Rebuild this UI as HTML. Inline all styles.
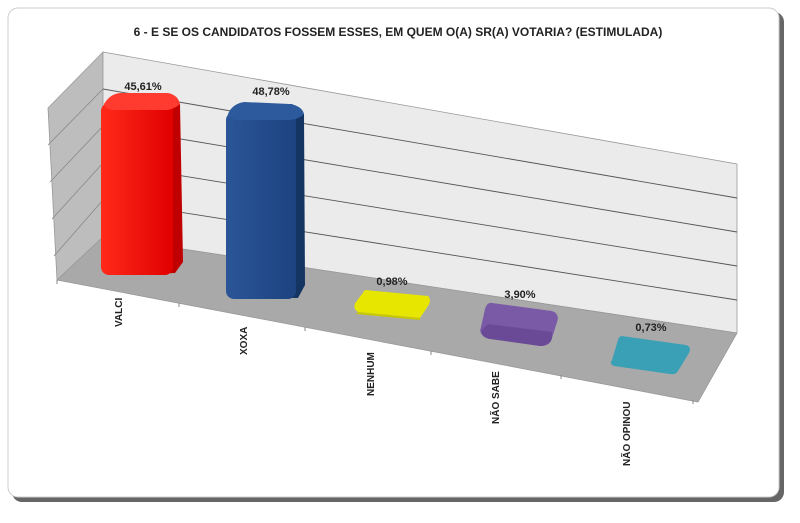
<!DOCTYPE html>
<html><head><meta charset="utf-8"><style>
html,body{margin:0;padding:0;background:#fff;}
svg{display:block;}
text{font-family:"Liberation Sans",sans-serif;font-weight:bold;fill:#222;}
</style></head><body>
<svg width="800" height="523" viewBox="0 0 800 523" xmlns="http://www.w3.org/2000/svg">
<defs>
<linearGradient id="rd" x1="0" x2="1"><stop offset="0" stop-color="#ff2a1a"/><stop offset="1" stop-color="#e00000"/></linearGradient>
<linearGradient id="bl" x1="0" x2="1"><stop offset="0" stop-color="#2a5597"/><stop offset="1" stop-color="#1d4380"/></linearGradient>
</defs>
<rect x="0" y="0" width="800" height="523" fill="#fff"/>
<rect x="12" y="12" width="772" height="490" rx="10" fill="#666"/>
<rect x="8" y="8" width="771" height="489" rx="10" fill="#fff" stroke="#ccc" stroke-width="1"/>
<text x="398" y="36" font-size="12" text-anchor="middle">6 - E SE OS CANDIDATOS FOSSEM ESSES, EM QUEM O(A) SR(A) VOTARIA? (ESTIMULADA)</text>
<!-- left wall -->
<polygon points="103,52 48,108 57,280 103,237" fill="#bdbdbd" stroke="#999" stroke-width="0.8"/>
<!-- back wall -->
<polygon points="103,52 737,164 737,333 103,237" fill="#ebebeb" stroke="#999" stroke-width="0.8"/>
<!-- floor -->
<polygon points="103,237 737,333 698,402 57,280" fill="#a9a9a9" stroke="#999" stroke-width="0.8"/>
<g stroke="#555" stroke-width="0.9">
<line x1="103" y1="89" x2="737" y2="198"/>
<line x1="103" y1="126" x2="737" y2="232"/>
<line x1="103" y1="163" x2="737" y2="266"/>
<line x1="103" y1="200" x2="737" y2="300"/>
</g>
<g stroke="#888" stroke-width="0.8">
<line x1="48" y1="108" x2="103" y2="89" opacity="0"/>
<line x1="48" y1="145" x2="103" y2="89"/>
<line x1="50" y1="182" x2="103" y2="126"/>
<line x1="52" y1="219" x2="103" y2="163"/>
<line x1="54" y1="256" x2="103" y2="200"/>
</g>
<!-- ticks -->
<g stroke="#888"><line x1="57" y1="280" x2="57" y2="284"/><line x1="179" y1="303" x2="179" y2="307"/><line x1="305" y1="327" x2="305" y2="331"/><line x1="431" y1="351" x2="431" y2="355"/><line x1="561" y1="375" x2="561" y2="379"/><line x1="693" y1="400" x2="693" y2="404"/></g>
<!-- red bar -->
<path d="M110,102 L170,96 L180,104 L183,262 L175,273 L120,275 Z" fill="#c00000"/>
<rect x="101" y="103" width="72" height="172" rx="8" fill="url(#rd)"/>
<path d="M104,104 Q110,94 120,93 L168,93 Q178,95 180,104 Q176,108 168,110 L112,110 Q104,108 104,104Z" fill="#ff3b30"/>
<!-- blue bar -->
<path d="M230,110 L292,104 L304,114 L305,285 L298,298 L240,298 Z" fill="#143462"/>
<rect x="226" y="112" width="70" height="187" rx="8" fill="url(#bl)"/>
<path d="M228,114 Q232,104 244,102 L290,104 Q302,106 304,114 Q298,120 288,120 L236,120 Q228,118 228,114Z" fill="#2c5a9c"/>
<!-- yellow -->
<path d="M365,290 L428,296 Q432,300 428,306 L420,318 L358,312 Q352,308 356,302 Z" fill="#e6e600"/>
<path d="M358,312 L420,318 L420,320 L356,314Z" fill="#c8c800"/>
<!-- purple -->
<path d="M492,303 L552,311 Q560,314 557,322 L552,338 Q550,346 540,346 L488,338 Q478,335 481,327 L485,309 Q487,302 492,303Z" fill="#7a5aa6"/>
<path d="M482,330 Q480,337 490,339 L540,346 Q550,346 552,338 L552,332 L488,324 Z" fill="#6a4a96"/>
<!-- teal -->
<path d="M622,336 L686,345 Q692,347 689,353 L678,371 Q676,375 670,374 L614,366 Q609,364 612,360 L618,340 Q619,336 622,336Z" fill="#3aa0b5"/>
<!-- value labels -->
<text x="143" y="90" font-size="11" text-anchor="middle">45,61%</text>
<text x="271" y="95" font-size="11" text-anchor="middle">48,78%</text>
<text x="392" y="285" font-size="11" text-anchor="middle">0,98%</text>
<text x="520" y="298" font-size="11" text-anchor="middle">3,90%</text>
<text x="651" y="331" font-size="11" text-anchor="middle">0,73%</text>
<!-- category labels -->
<g font-size="10">
<text transform="translate(122,327) rotate(-90)">VALCI</text>
<text transform="translate(247,355) rotate(-90)">XOXA</text>
<text transform="translate(374,396) rotate(-90)">NENHUM</text>
<text transform="translate(499,424) rotate(-90)">NÃO SABE</text>
<text transform="translate(630,466) rotate(-90)">NÃO OPINOU</text>
</g>
</svg>
</body></html>
